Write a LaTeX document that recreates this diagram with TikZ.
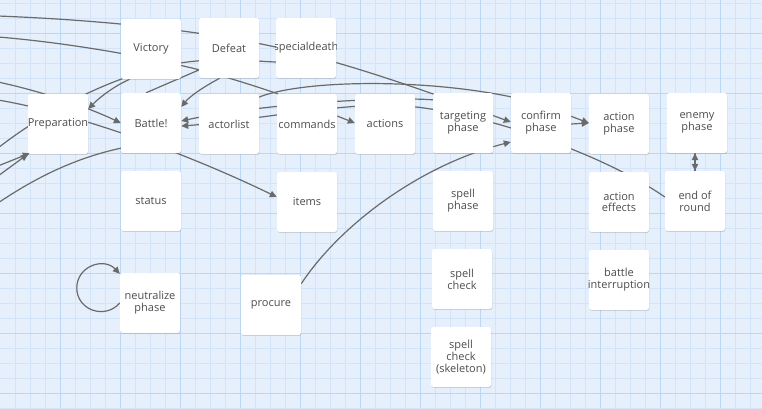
\documentclass[tikz,border=0pt]{standalone}
\usepackage{fontspec}
\setmainfont{Open Sans}
\usetikzlibrary{arrows.meta,calc,shadows}

\definecolor{paper}{HTML}{E6F0FC}
\definecolor{gridminor}{HTML}{D3E4F8}
\definecolor{gridmajor}{HTML}{BCD7F4}
\definecolor{ink}{HTML}{4D4D4D}
\definecolor{wire}{HTML}{6A6A6A}

\pgfdeclarelayer{canvas}
\pgfdeclarelayer{wires}
\pgfsetlayers{canvas,wires,main}

\tikzset{
  card/.style={rectangle, minimum width=60pt, minimum height=60pt, inner sep=0pt,
    fill=white, rounded corners=2.5pt,
    drop shadow={shadow xshift=0.4pt, shadow yshift=-0.9pt, opacity=0.28, fill=black!60}},
  cardtext/.style={inner sep=0pt, align=center, text=ink,
    font=\fontsize{11}{11.8}\selectfont},
  link/.style={draw=wire, line width=1.2pt},
  tip/.style={-{Triangle[length=7pt,width=6.5pt]}},
}

% a card: white square with its label clipped to the square
\newcommand\card[3]{%
  \node[card] (#1) at (#2) {};
  \begin{scope}
    \clip (#1.south west) rectangle (#1.north east);
    \node[cardtext] (#1-label) at (#1.center) {#3};
  \end{scope}}

\begin{document}
\begin{tikzpicture}[x=1pt, y=-1pt]
\useasboundingbox (0,0) rectangle (762,408);

% grid paper
\begin{pgfonlayer}{canvas}
  \fill[paper] (0,0) rectangle (762,408);
  \foreach \x in {15,30,...,750} \draw[gridminor, line width=0.8pt] (\x,0) -- (\x,408);
  \foreach \y in {3,18,...,408} \draw[gridminor, line width=0.8pt] (0,\y) -- (762,\y);
  \foreach \x in {60,120,...,720} \draw[gridmajor, line width=1pt] (\x,0) -- (\x,408);
  \foreach \y in {33,93,...,393} \draw[gridmajor, line width=1pt] (0,\y) -- (762,\y);
\end{pgfonlayer}

% cards
\card{vic}{151,49}{Victory}
\card{def}{229,48}{Defeat}
\card{spd}{306,48}{specialdeath}
\card{prep}{58,124}{Preparation}
\card{bat}{151,123}{Battle!}
\card{act}{229,124}{actorlist}
\card{cmd}{307,124}{commands}
\card{acts}{385,124}{actions}
\card{tgt}{463,123}{targeting\\phase}
\card{cnf}{541,123}{confirm\\phase}
\card{aph}{619,124}{action\\phase}
\card{eph}{697,123}{enemy\\phase}
\card{sta}{151,201}{status}
\card{itm}{307,202}{items}
\card{sph}{463,201}{spell\\phase}
\card{aef}{619,202}{action\\effects}
\card{eor}{695,201}{end of\\round}
\card{neu}{150,303}{neutralize\\phase}
\card{pro}{271,305}{procure}
\card{sck}{462,279}{spell\\check}
\card{bint}{619,280}{battle\\interruption}
\card{sks}{461,357}{spell\\check\\(skeleton)}

% loose ends of links coming in from the left
\coordinate (w1) at (-2,16);
\coordinate (w2) at (-2,37);
\coordinate (w3) at (-2,82);
\coordinate (w4) at (-2,100);
\coordinate (w5) at (-2,148);
\coordinate (w6) at (-2,166);
\coordinate (w7) at (-2,176);
\coordinate (w8) at (-2,203);

% links, drawn beneath the cards
\begin{pgfonlayer}{wires}
  \draw[link,tip] (w1) .. controls (100,20) and (200,30) .. (280,48)
        .. controls (360,66) and (450,100) .. ($(cnf.west)+(0,-1)$);
  \draw[link] (w2) .. controls (60,42) and (140,55) .. (200,70)
        .. controls (230,78) and (255,86) .. ($(cmd.north west)+(1,0)$);
  \draw[link,tip] (w3) .. controls (40,91) and (85,106) .. (bat.west);
  \draw[link,tip] (w4) .. controls (70,112) and (180,150) .. ($(itm.west)+(0,-5)$);
  \draw[link] (w5) .. controls (40,115) and (110,75) .. (180,63)
        .. controls (220,57) and (250,61) .. ($(spd.west)+(0,14)$);
  \draw[link,tip] (w6) -- ($(prep.south west)+(2,-1)$);
  \draw[link,tip] (w7) -- (prep.south west);
  \draw[link] (w8) .. controls (35,178) and (75,158) .. ($(bat.south west)+(0,-5)$);

  \draw[link,tip] ($(vic.south west)+(9,0)$) .. controls (110,88) and (96,101) .. ($(prep.east)+(0,-15)$);
  \draw[link,tip] ($(def.south west)+(21,0)$) .. controls (205,86) and (190,96) .. ($(bat.east)+(0,-16)$);
  \draw[link] ($(bat.north)+(-5,0)$) -- ($(def.west)+(0,22)$);

  \draw[link,tip] ($(act.north east)+(-2,4)$) .. controls (300,80) and (420,78) .. ($(cnf.north west)+(0,4)$)
        .. controls (540,104) and (565,114) .. ($(aph.west)+(0,-1)$);
  \draw[link,tip] ($(tgt.west)+(2,-23)$) .. controls (390,96) and (260,104) .. ($(bat.east)+(0,-2)$);
  \draw[link,tip] ($(eor.west)+(0,-4)$) .. controls (590,145) and (450,104) .. (385,105)
        .. controls (320,106) and (240,122) .. ($(bat.east)+(0,3)$);

  \draw[link,tip] ($(cmd.east)+(0,-8)$) -- ($(acts.west)+(0,-1)$);
  \draw[link,tip] ($(cnf.east)+(0,1)$) -- ($(aph.west)+(0,-1)$);
  \draw[link,tip] (eor.north) -- ($(eph.south)+(-2,0)$);
  \draw[link,tip] ($(eph.south)+(-2,0)$) -- (eor.north);

  \draw[link,tip] ($(pro.north east)+(0,9)$) .. controls (340,225) and (420,165) .. ($(cnf.west)+(0,19)$);

  % neutralize phase loops back onto itself
  \draw[link,tip] (neu.west) .. controls ($(neu.west)+(-15,17)$) and ($(neu.west)+(-43,7)$) .. ($(neu.west)+(-43,-15)$)
        .. controls ($(neu.west)+(-43,-37)$) and ($(neu.west)+(-16,-46)$) .. ($(neu.north west)+(0,1)$);
\end{pgfonlayer}
\end{tikzpicture}
\end{document}
